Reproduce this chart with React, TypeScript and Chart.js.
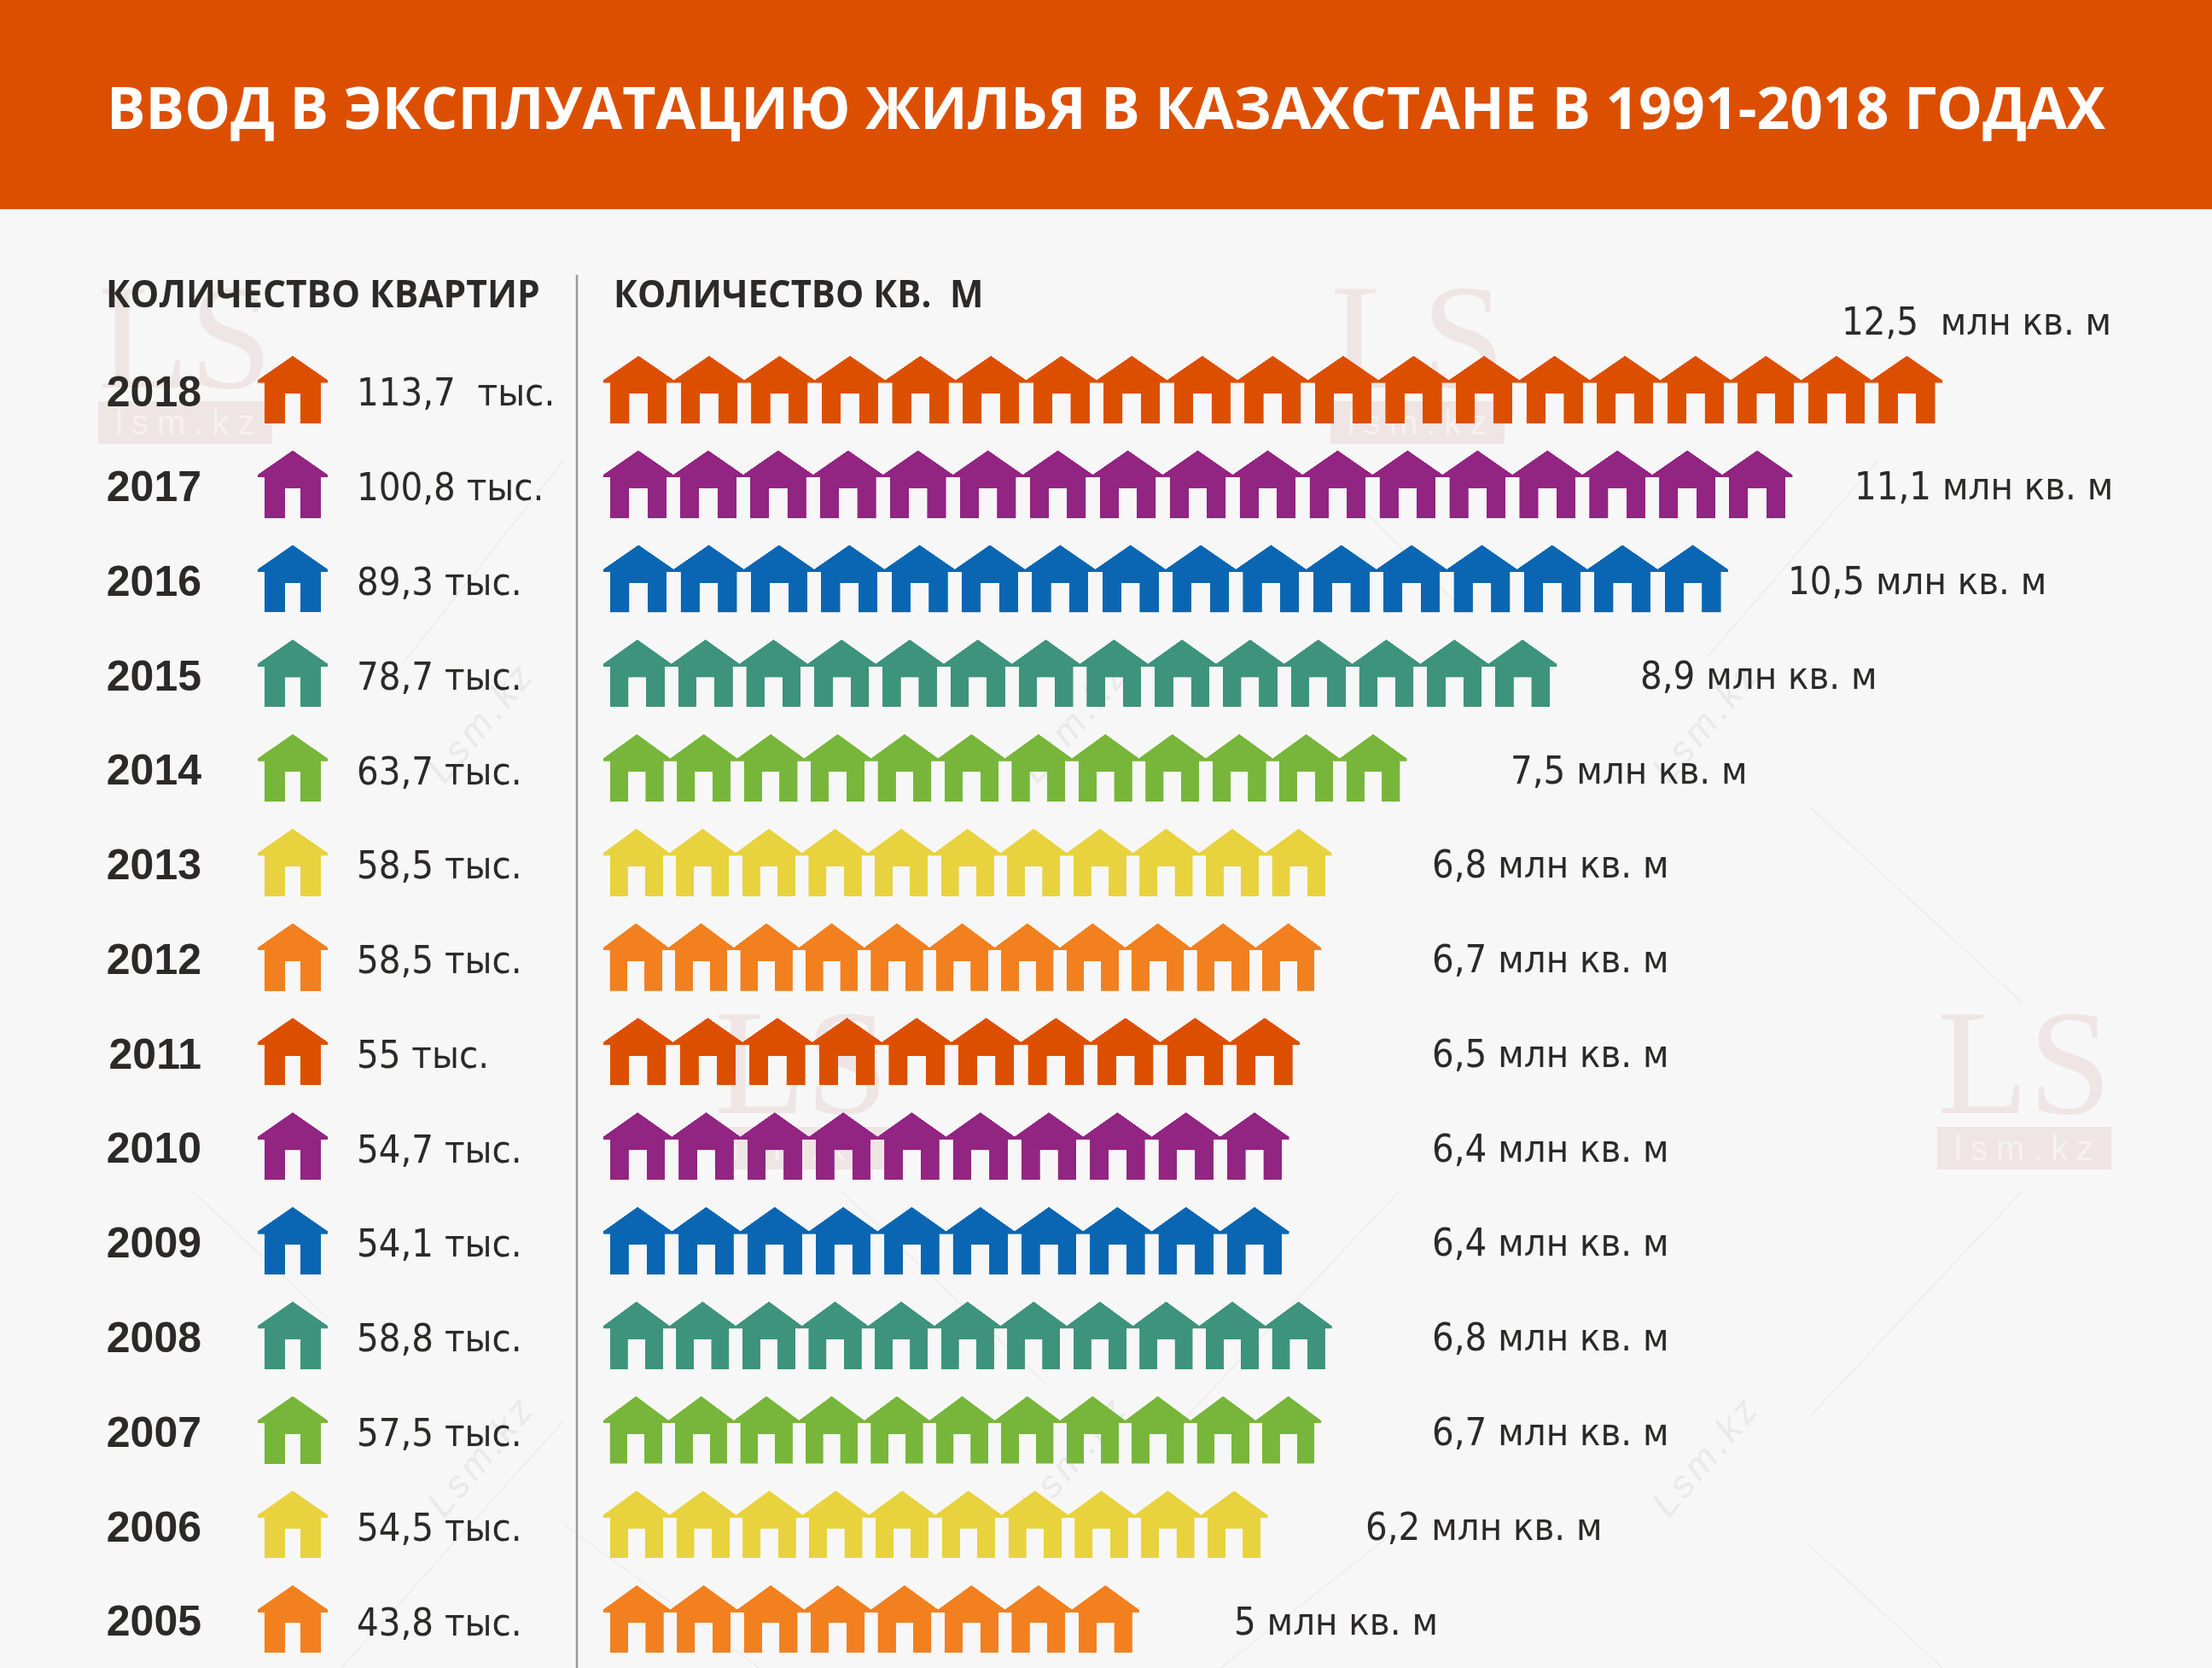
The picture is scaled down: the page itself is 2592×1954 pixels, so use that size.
import React, { useEffect, useRef } from "react";
import { Chart, registerables } from "chart.js";

Chart.register(...registerables);

const TITLE = "ВВОД В ЭКСПЛУАТАЦИЮ ЖИЛЬЯ В КАЗАХСТАНЕ В 1991-2018 ГОДАХ";
const LEFT_HEADER = "КОЛИЧЕСТВО КВАРТИР";
const RIGHT_HEADER = "КОЛИЧЕСТВО КВ.  М";

const years = ["2018", "2017", "2016", "2015", "2014", "2013", "2012", "2011", "2010", "2009", "2008", "2007", "2006", "2005"];
const areaMillions = [12.5, 11.1, 10.5, 8.9, 7.5, 6.8, 6.7, 6.5, 6.4, 6.4, 6.8, 6.7, 6.2, 5];
const houseCounts = [19, 17, 16, 14, 12, 11, 11, 10, 10, 10, 11, 11, 10, 8];
const flatLabels = ["113,7  тыс.", "100,8 тыс.", "89,3 тыс.", "78,7 тыс.", "63,7 тыс.", "58,5 тыс.", "58,5 тыс.", "55 тыс.", "54,7 тыс.", "54,1 тыс.", "58,8 тыс.", "57,5 тыс.", "54,5 тыс.", "43,8 тыс."];
const areaLabels = ["12,5  млн кв. м", "11,1 млн кв. м", "10,5 млн кв. м", "8,9 млн кв. м", "7,5 млн кв. м", "6,8 млн кв. м", "6,7 млн кв. м", "6,5 млн кв. м", "6,4 млн кв. м", "6,4 млн кв. м", "6,8 млн кв. м", "6,7 млн кв. м", "6,2 млн кв. м", "5 млн кв. м"];

const ORANGE = "#dd4f00", PURPLE = "#922482", BLUE = "#0a66b2", TEAL = "#3e937c", GREEN = "#77b63a", YELLOW = "#e8d23e", AMBER = "#f2801f";
const rowColors = [ORANGE, PURPLE, BLUE, TEAL, GREEN, YELLOW, AMBER, ORANGE, PURPLE, BLUE, TEAL, GREEN, YELLOW, AMBER];

// layout (pixels of the 2592x1954 page)
const W = 2592, H = 1954;
const HEADER_H = 245;
const AXIS_ZERO = 707;
const PX_PER_UNIT = 125.5;
const HOUSE_H = 79;
const YEAR_RIGHT = 244;
const areaLabelX = [2158, 2173, 2095, 1922, 1770, 1678, 1678, 1678, 1678, 1678, 1678, 1678, 1600, 1446];
const logos = [[115, 340], [1559, 340], [837, 1190], [2270, 1190]];
const diagTexts = [[575, 855], [1270, 855], [2010, 855], [575, 1715], [1270, 1715], [2010, 1715]];
const faintLines = [
  [225, 1395, 385, 1545], [2120, 945, 2370, 1175], [2120, 1810, 2370, 2040],
  [985, 1395, 1230, 1625], [1640, 1395, 1390, 1660], [660, 540, 470, 780],
  [2370, 1395, 2120, 1660], [1540, 540, 1720, 720], [660, 1785, 890, 1954],
  [660, 1665, 400, 1954], [1640, 1790, 1430, 1954], [2200, 540, 2000, 770],
];

const FONT = "'DejaVu Sans Condensed', 'DejaVu Sans', sans-serif";
const HEAD_FONT = "'Open Sans', 'Liberation Sans', sans-serif";

function houseTile(color: string, w: number, h: number, doorScale = 1) {
  const S = 4;
  const c = document.createElement("canvas");
  c.width = Math.ceil(w * S);
  c.height = Math.ceil(h * S);
  const g = c.getContext("2d")!;
  g.scale(c.width / w, c.height / h);
  const eave = h * 0.36, wall = w * 0.1, tip = h * 0.4, doorW = w * 0.262 * doorScale, doorTop = h * 0.56;
  g.fillStyle = color;
  g.beginPath();
  g.moveTo(w / 2, 0);
  g.lineTo(w, eave);
  g.lineTo(w, tip);
  g.lineTo(w - wall, tip);
  g.lineTo(w - wall, h);
  g.lineTo(w / 2 + doorW / 2, h);
  g.lineTo(w / 2 + doorW / 2, doorTop);
  g.lineTo(w / 2 - doorW / 2, doorTop);
  g.lineTo(w / 2 - doorW / 2, h);
  g.lineTo(wall, h);
  g.lineTo(wall, tip);
  g.lineTo(0, tip);
  g.lineTo(0, eave);
  g.closePath();
  g.fill();
  return c;
}

const backdrop = {
  id: "backdrop",
  beforeDraw(chart: any) {
    const g = chart.ctx;
    g.save();
    g.fillStyle = "#f7f7f7";
    g.fillRect(0, 0, W, H);
    g.fillStyle = ORANGE;
    g.fillRect(0, 0, W, HEADER_H);

    g.strokeStyle = "#ececec";
    g.lineWidth = 1.5;
    for (const [a, b, c, d] of faintLines) {
      g.beginPath();
      g.moveTo(a, b);
      g.lineTo(c, d);
      g.stroke();
    }
    for (const [x, y] of logos) {
      g.fillStyle = "#efe5e5";
      g.font = "175px 'Liberation Serif', serif";
      g.textAlign = "left";
      g.textBaseline = "alphabetic";
      g.fillText("LS", x, y + 114);
      g.fillRect(x, y + 130, 204, 50);
      g.fillStyle = "#f7f1f1";
      g.font = "40px 'Liberation Sans', sans-serif";
      (g as any).letterSpacing = "10px";
      g.fillText("lsm.kz", x + 20, y + 169);
      (g as any).letterSpacing = "0px";
    }
    for (const [x, y] of diagTexts) {
      g.save();
      g.translate(x, y);
      g.rotate(-Math.PI / 3.6);
      g.fillStyle = "#e9e9e9";
      g.font = "italic 44px 'Liberation Sans', sans-serif";
      g.textAlign = "center";
      (g as any).letterSpacing = "5px";
      g.fillText("Lsm.kz", 0, 0);
      g.restore();
    }
    g.restore();
  },
};

function squeezedText(g: CanvasRenderingContext2D, text: string, x: number, y: number, sx: number) {
  g.save();
  g.translate(x, y);
  g.scale(sx, 1);
  g.fillText(text, 0, 0);
  g.restore();
}

const annotations = {
  id: "annotations",
  afterDatasetsDraw(chart: any) {
    const g = chart.ctx;
    const yScale = chart.scales.y;
    g.save();
    g.textAlign = "left";
    g.textBaseline = "alphabetic";

    g.strokeStyle = "#9a9a9a";
    g.lineWidth = 2.5;
    g.beginPath();
    g.moveTo(676, 322);
    g.lineTo(676, H);
    g.stroke();

    g.fillStyle = "#2b2a29";
    g.font = `bold 45px ${HEAD_FONT}`;
    squeezedText(g, LEFT_HEADER, 124, 360, 0.945);
    squeezedText(g, RIGHT_HEADER, 719, 360, 0.93);

    years.forEach((year, i) => {
      const yc = yScale.getPixelForValue(i);
      const icon = houseTile(rowColors[i], 82, HOUSE_H, 0.85);
      g.drawImage(icon, 302, yc - HOUSE_H / 2, 82, HOUSE_H);
      g.fillStyle = "#2b2a29";
      g.font = `45px ${FONT}`;
      g.fillText(flatLabels[i], 418, yc + 19);
      const labelY = i === 0 ? 392 : yc + 18;
      g.fillText(areaLabels[i], areaLabelX[i], labelY);
    });
    g.restore();
  },
};

export default function App() {
  const ref = useRef<HTMLCanvasElement>(null);
  useEffect(() => {
    document.body.style.margin = "0";
    const canvas = ref.current!;
    const chart = new Chart(canvas, {
      type: "bar",
      data: {
        labels: years,
        datasets: [
          {
            label: "млн кв. м",
            data: areaMillions,
            barThickness: HOUSE_H,
            borderWidth: 0,
            backgroundColor: (ctx: any) => {
              const i = ctx.dataIndex;
              if (i === undefined || !ctx.chart.scales.x) return rowColors[0];
              const period = (areaMillions[i] * PX_PER_UNIT) / houseCounts[i];
              const tile = houseTile(rowColors[i], period, HOUSE_H);
              const pat = ctx.chart.ctx.createPattern(tile, "repeat-x")!;
              const x0 = ctx.chart.scales.x.getPixelForValue(0);
              const yTop = ctx.chart.scales.y.getPixelForValue(i) - HOUSE_H / 2;
              pat.setTransform(new DOMMatrix().translate(x0, yTop).scale(period / tile.width, HOUSE_H / tile.height));
              return pat;
            },
          },
        ],
      },
      options: {
        indexAxis: "y",
        animation: false,
        responsive: false,
        devicePixelRatio: 1,
        layout: { padding: { left: 0, right: 0, top: 0, bottom: 2 } },
        scales: {
          x: {
            display: false,
            min: 0,
            max: (W - AXIS_ZERO) / PX_PER_UNIT,
          },
          y: {
            afterFit: (s: any) => {
              s.width = AXIS_ZERO;
              s.paddingTop = 0;
              s.paddingBottom = 0;
            },
            grid: { display: false },
            border: { display: false },
            ticks: {
              crossAlign: "near",
              padding: AXIS_ZERO - YEAR_RIGHT,
              labelOffset: 6,
              autoSkip: false,
              color: "#2b2a29",
              font: { family: "'Liberation Sans', sans-serif", weight: "bold", size: 50 },
            },
          },
        },
        plugins: {
          legend: { display: false },
          tooltip: { enabled: false },
          title: {
            display: true,
            text: TITLE,
            color: "#ffffff",
            font: { family: HEAD_FONT, weight: "bold", size: 67.8, lineHeight: 1.2 },
            padding: { top: 91, bottom: 228.6 },
          },
        },
      } as any,
      plugins: [backdrop, annotations],
    });
    return () => chart.destroy();
  }, []);
  return <canvas ref={ref} width={W} height={H} style={{ display: "block", width: W, height: H }} />;
}
